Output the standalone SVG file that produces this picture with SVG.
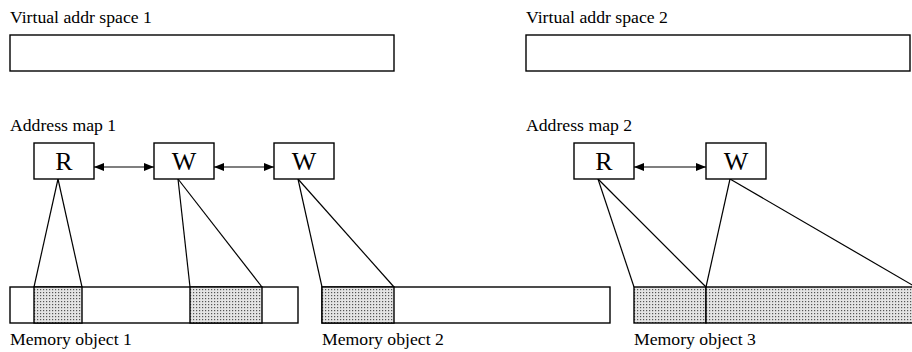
<svg xmlns="http://www.w3.org/2000/svg" width="912" height="352" viewBox="0 0 912 352">
<style>
text{font-family:"Liberation Serif","Times New Roman",serif;fill:#000}
.lbl{font-size:17.7px}
.nt{font-size:26px}
.box{fill:#fff;stroke:#000;stroke-width:1.4}
.sh{fill:url(#dots);stroke:#000;stroke-width:1.4}
.ln{stroke:#000;stroke-width:1.2;fill:none}
</style>
<defs>
<pattern id="dots" width="3" height="3" patternUnits="userSpaceOnUse">
<rect width="3" height="3" fill="#e4e4e4"/>
<rect x="1" y="1" width="1.2" height="1.2" fill="#555"/>
</pattern>
<marker id="ah" markerWidth="10" markerHeight="8" refX="10" refY="4" orient="auto-start-reverse" markerUnits="userSpaceOnUse">
<path d="M0,0 L10,4 L0,8 z" fill="#000"/>
</marker>
</defs>
<g id="vas1"><text class="lbl" x="10" y="23">Virtual addr space 1</text><rect class="box" x="10" y="35" width="384" height="36"/></g>
<g id="vas2"><text class="lbl" x="526" y="23">Virtual addr space 2</text><rect class="box" x="526" y="35" width="384" height="36"/></g>
<g id="map1label"><text class="lbl" x="10" y="131">Address map 1</text></g>
<g id="map2label"><text class="lbl" x="526" y="131">Address map 2</text></g>
<g id="mem1"><rect class="box" x="10" y="287" width="288" height="36"/><rect class="sh" x="34" y="287" width="48" height="36"/><rect class="sh" x="190" y="287" width="72" height="36"/><text class="lbl" x="10" y="345">Memory object 1</text></g>
<g id="mem2"><rect class="box" x="322" y="287" width="288" height="36"/><rect class="sh" x="322" y="287" width="72" height="36"/><text class="lbl" x="322" y="345">Memory object 2</text></g>
<g id="mem3"><rect class="sh" x="634" y="287" width="72" height="36"/><rect class="sh" x="706" y="287" width="210" height="36"/><text class="lbl" x="634" y="345">Memory object 3</text></g>
<g id="connectors">
<line class="ln" x1="94" y1="167" x2="154" y2="167" marker-start="url(#ah)" marker-end="url(#ah)"/>
<line class="ln" x1="214" y1="167" x2="274" y2="167" marker-start="url(#ah)" marker-end="url(#ah)"/>
<line class="ln" x1="634" y1="167" x2="706" y2="167" marker-start="url(#ah)" marker-end="url(#ah)"/>
<line class="ln" x1="58" y1="179" x2="34" y2="287"/>
<line class="ln" x1="58" y1="179" x2="82" y2="287"/>
<line class="ln" x1="178" y1="179" x2="190" y2="287"/>
<line class="ln" x1="178" y1="179" x2="262" y2="287"/>
<line class="ln" x1="298" y1="179" x2="322" y2="287"/>
<line class="ln" x1="298" y1="179" x2="394" y2="287"/>
<line class="ln" x1="598" y1="179" x2="634" y2="287"/>
<line class="ln" x1="598" y1="179" x2="706" y2="287"/>
<line class="ln" x1="730" y1="179" x2="706" y2="287"/>
<line class="ln" x1="730" y1="179" x2="914" y2="286"/>
</g>
<g id="r1"><rect class="box" x="34" y="143" width="60" height="36"/><text class="nt" x="64" y="170" text-anchor="middle">R</text></g>
<g id="w1"><rect class="box" x="154" y="143" width="60" height="36"/><text class="nt" x="184" y="170" text-anchor="middle">W</text></g>
<g id="w2"><rect class="box" x="274" y="143" width="60" height="36"/><text class="nt" x="304" y="170" text-anchor="middle">W</text></g>
<g id="r2"><rect class="box" x="574" y="143" width="60" height="36"/><text class="nt" x="604" y="170" text-anchor="middle">R</text></g>
<g id="w3"><rect class="box" x="706" y="143" width="60" height="36"/><text class="nt" x="736" y="170" text-anchor="middle">W</text></g>
</svg>
